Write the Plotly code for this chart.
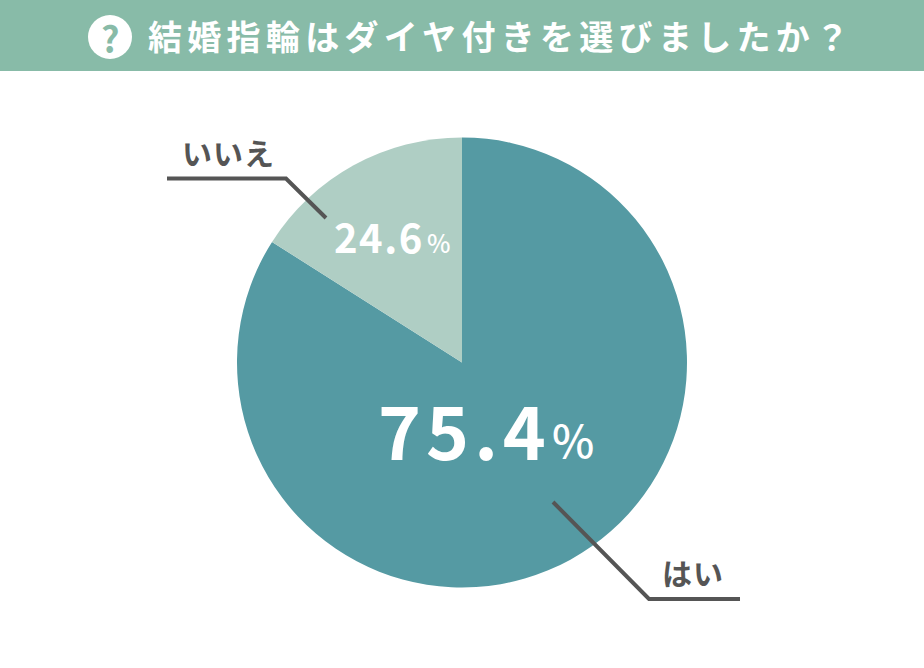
import plotly.graph_objects as go

W, H = 924, 668
FONT = "Noto Sans CJK JP"

title_text = "結婚指輪はダイヤ付きを選びましたか？"
slice_names = ["はい", "いいえ"]
# Shares as drawn in the picture (the printed percentages differ from the drawn wedge)
drawn_shares = [84, 16]
printed_values = ["75.4", "24.6"]
slice_colors = ["#559AA3", "#AFCEC4"]
header_color = "#88BBA8"
ink = "#555555"


def px(x):
    return x / W


def py(y):
    return 1 - y / H


def path(points):
    return "M " + " L ".join(f"{px(x):.5f},{py(y):.5f}" for x, y in points)


def spaced(text, sp):
    return f'<span style="letter-spacing:{sp}px">{text}</span>'


fig = go.Figure(
    go.Pie(
        labels=slice_names,
        values=drawn_shares,
        sort=False,
        direction="clockwise",
        rotation=0,
        marker=dict(colors=slice_colors, line=dict(width=0)),
        textinfo="none",
        hoverinfo="label",
        showlegend=False,
        domain=dict(x=[px(237), px(687)], y=[py(587.5), py(137.5)]),
    )
)

shapes = [
    dict(type="rect", xref="paper", yref="paper", x0=0, x1=1, y0=py(71), y1=1,
         fillcolor=header_color, line=dict(width=0), layer="below"),
    dict(type="circle", xref="paper", yref="paper", x0=px(88), x1=px(132), y0=py(59), y1=py(15),
         fillcolor="white", line=dict(width=0)),
    dict(type="path", xref="paper", yref="paper",
         path=path([(167, 178.5), (286, 178.5), (326, 218)]),
         line=dict(color=ink, width=4)),
    dict(type="path", xref="paper", yref="paper",
         path=path([(553, 502), (649, 599), (740, 599)]),
         line=dict(color=ink, width=4)),
]


def note(x, y, text, size, color="white", anchor="center", weight="bold"):
    return dict(
        xref="paper", yref="paper", x=px(x), y=py(y), text=text, showarrow=False,
        xanchor=anchor, yanchor="middle",
        font=dict(family=FONT, size=size, color=color, weight=weight),
    )


annotations = [
    note(146, 36, spaced(title_text, 5.3), 34, anchor="left"),
    note(110, 37, "?", 36, color=header_color),
    note(376, 428, spaced(printed_values[0], 5), 73, anchor="left"),
    note(550, 438, "%", 45, anchor="left", weight=500),
    note(332, 236, spaced(printed_values[1], 1.5), 40, anchor="left"),
    note(425, 242, "%", 25, anchor="left", weight=500),
    note(228, 152, spaced(slice_names[1], 1), 30, color=ink),
    note(693, 572, spaced(slice_names[0], 1), 30, color=ink),
]

fig.update_layout(
    width=W,
    height=H,
    margin=dict(l=0, r=0, t=0, b=0),
    paper_bgcolor="white",
    plot_bgcolor="white",
    shapes=shapes,
    annotations=annotations,
)

fig.write_html("out.html", config=dict(displayModeBar=False),
               post_script="document.body.style.margin='0';")
